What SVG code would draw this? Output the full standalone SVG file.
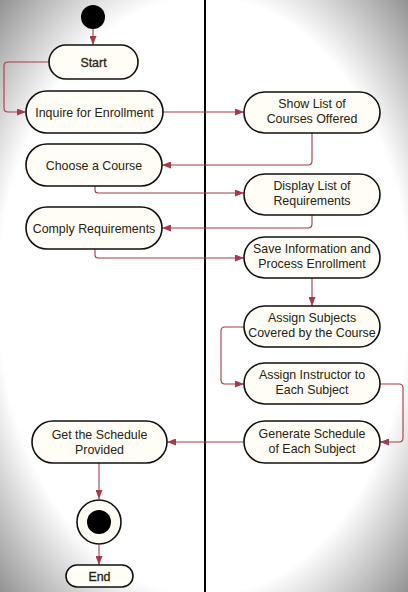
<svg xmlns="http://www.w3.org/2000/svg" width="408" height="592" viewBox="0 0 408 592">
<defs>
<radialGradient id="bg" cx="0.5" cy="0.5" r="0.72">
<stop offset="0" stop-color="#ffffff"/>
<stop offset="0.7" stop-color="#ffffff"/>
<stop offset="1" stop-color="#8c8c8c"/>
</radialGradient>
<marker id="arr" viewBox="0 0 9 7" refX="9" refY="3.5" markerWidth="9" markerHeight="7" markerUnits="userSpaceOnUse" orient="auto">
<path d="M0,0 L9,3.5 L0,7 z" fill="#a63a4a"/>
</marker>
<style>
.n{fill:#fffdf6;stroke:#111;stroke-width:1.6}
.t{font-family:"Liberation Sans",Arial,sans-serif;font-size:12.4px;fill:#2a2210;text-anchor:middle}
.b{stroke:#2a2210;stroke-width:0.3}
.c{fill:none;stroke:#a63a4a;stroke-width:1.1;marker-end:url(#arr)}
</style>
</defs>
<rect width="408" height="592" fill="url(#bg)"/>
<line x1="205" y1="0" x2="205" y2="592" stroke="#000" stroke-width="2"/>
<g id="connectors">
<path class="c" d="M93,29 V45"/>
<path class="c" d="M49,62 H8 Q4,62 4,66 V108 Q4,112 8,112 H26"/>
<path class="c" d="M163,112 H244"/>
<path class="c" d="M312,133 V161 Q312,165 308,165 H162"/>
<path class="c" d="M95,186 V190 Q95,193 98,193 H244"/>
<path class="c" d="M312,215 V224 Q312,228 308,228 H162"/>
<path class="c" d="M95,249 V255 Q95,258 98,258 H244"/>
<path class="c" d="M312,278 V306"/>
<path class="c" d="M244,327 H225 Q221,327 221,331 V380 Q221,384 225,384 H244"/>
<path class="c" d="M380,384 H399 Q403,384 403,388 V438 Q403,442 399,442 H380"/>
<path class="c" d="M244,442 H167"/>
<path class="c" d="M99,463 V499"/>
<path class="c" d="M99,545 V565"/>
</g>
<g id="initial"><circle cx="93" cy="17" r="12" fill="#000"/></g>
<g id="start"><rect class="n" x="49" y="45" width="89" height="34" rx="17"/><text class="t b" x="93.5" y="66.5">Start</text></g>
<g id="inquire"><rect class="n" x="26" y="91" width="137" height="42" rx="21"/><text class="t" x="94.5" y="116.5">Inquire for Enrollment</text></g>
<g id="choose"><rect class="n" x="26" y="144" width="136" height="42" rx="21"/><text class="t" x="94" y="169.5">Choose a Course</text></g>
<g id="comply"><rect class="n" x="26" y="207" width="136" height="42" rx="21"/><text class="t" x="94" y="232.5">Comply Requirements</text></g>
<g id="getschedule"><rect class="n" x="32" y="421" width="135" height="42" rx="21"/><text class="t" x="99.5" y="438.5">Get the Schedule</text><text class="t" x="99.5" y="453.5">Provided</text></g>
<g id="final"><circle cx="99" cy="522" r="22" fill="#fffdf6" stroke="#111" stroke-width="1.6"/><circle cx="99" cy="522" r="12" fill="#000"/></g>
<g id="end"><rect class="n" x="66" y="565" width="67" height="22" rx="11"/><text class="t b" x="99.5" y="580.5">End</text></g>
<g id="showlist"><rect class="n" x="244" y="92" width="136" height="41" rx="20.5"/><text class="t" x="312" y="107.5">Show List of</text><text class="t" x="312" y="122.5">Courses Offered</text></g>
<g id="display"><rect class="n" x="244" y="174" width="136" height="41" rx="20.5"/><text class="t" x="312" y="189.5">Display List of</text><text class="t" x="312" y="204.5">Requirements</text></g>
<g id="save"><rect class="n" x="244" y="237" width="136" height="41" rx="20.5"/><text class="t" x="312" y="252.5">Save Information and</text><text class="t" x="312" y="267.5">Process Enrollment</text></g>
<g id="assignsubjects"><rect class="n" x="244" y="306" width="136" height="41" rx="20.5"/><text class="t" x="312" y="321.5">Assign Subjects</text><text class="t" x="312" y="336.5">Covered by the Course</text></g>
<g id="assigninstructor"><rect class="n" x="244" y="363" width="136" height="41" rx="20.5"/><text class="t" x="312" y="378.5">Assign Instructor to</text><text class="t" x="312" y="393.5">Each Subject</text></g>
<g id="generate"><rect class="n" x="244" y="421" width="136" height="42" rx="21"/><text class="t" x="312" y="437.5">Generate Schedule</text><text class="t" x="312" y="452.5">of Each Subject</text></g>
</svg>
